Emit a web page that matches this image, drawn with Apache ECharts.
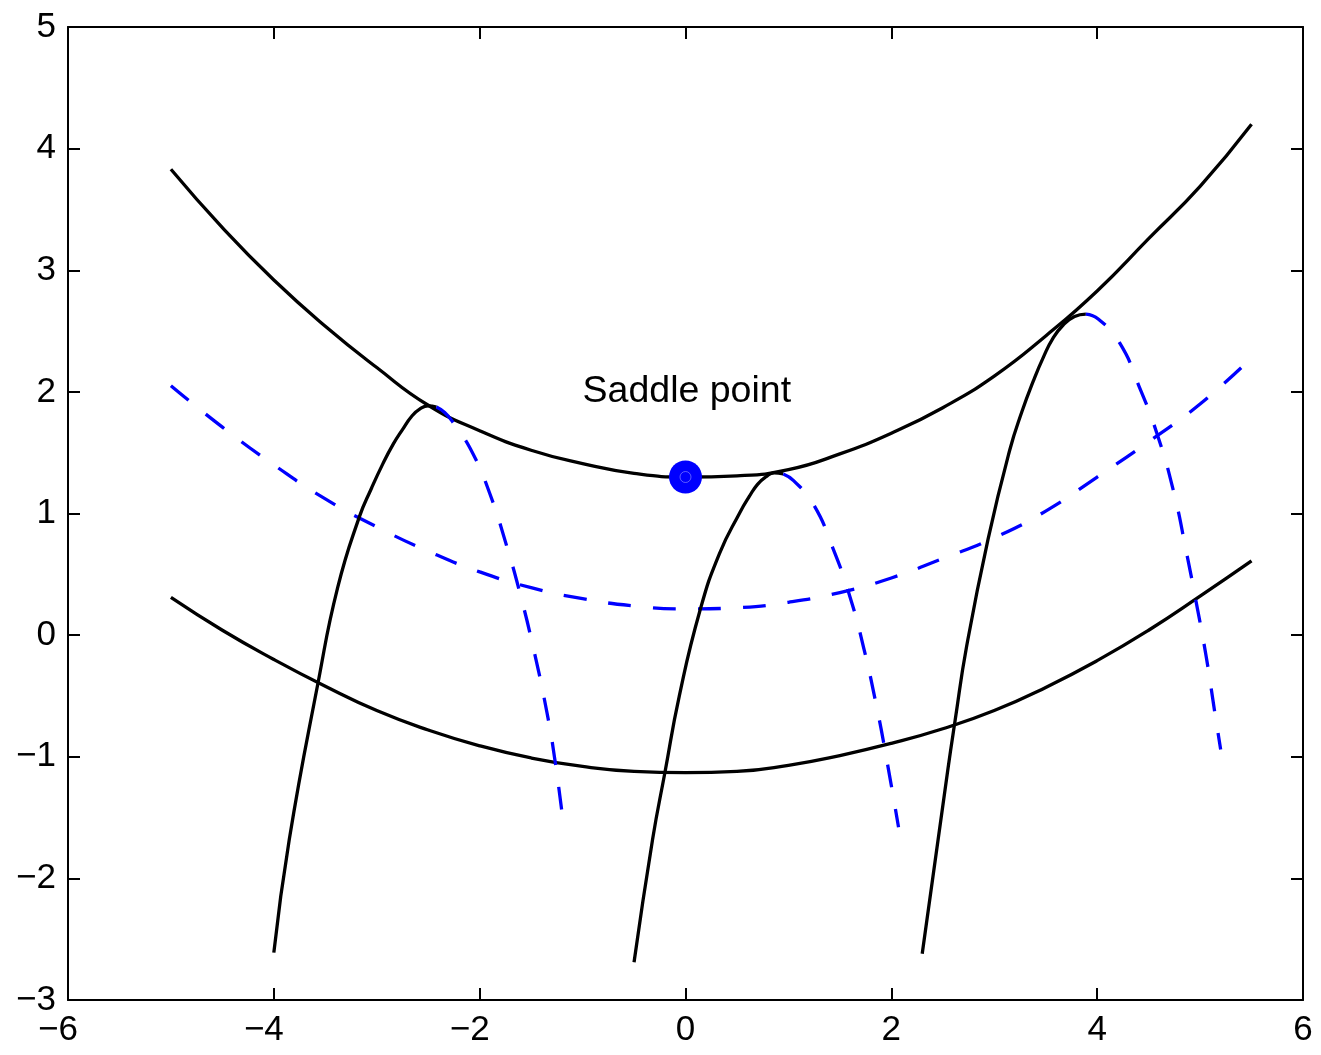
<!DOCTYPE html>
<html>
<head>
<meta charset="utf-8">
<script src="https://cdn.jsdelivr.net/npm/echarts@6/dist/echarts.min.js"></script>
<style>
  html, body { margin: 0; padding: 0; background: #ffffff; }
  #chart { width: 1321px; height: 1055px; }
</style>
</head>
<body>
<div id="chart"></div>
<script>
// Axis ticks
const xTickValues = [-6, -4, -2, 0, 2, 4, 6];
const yTickValues = [-3, -2, -1, 0, 1, 2, 3, 4, 5];

// Stable / unstable branches, as [x, y] pairs
const upperBranch = [
  [-5.0, 3.83], [-4.5, 3.35], [-4.0, 2.92], [-3.5, 2.54], [-3.0, 2.20],
  [-2.5, 1.89], [-2.0, 1.68], [-1.5, 1.52], [-1.0, 1.41], [-0.5, 1.33],
  [0.0, 1.30], [0.5, 1.31], [1.0, 1.36], [1.5, 1.49], [2.0, 1.66],
  [2.5, 1.87], [3.0, 2.13], [3.5, 2.46], [4.0, 2.83], [4.5, 3.26],
  [5.0, 3.69], [5.5, 4.20]
];
const lowerBranch = [
  [-5.0, 0.31], [-4.5, 0.04], [-4.0, -0.20], [-3.5, -0.42], [-3.0, -0.62],
  [-2.5, -0.78], [-2.0, -0.91], [-1.5, -1.01], [-1.0, -1.08], [-0.5, -1.12],
  [0.0, -1.13], [0.5, -1.12], [1.0, -1.07], [1.5, -0.99], [2.0, -0.89],
  [2.5, -0.77], [3.0, -0.62], [3.5, -0.43], [4.0, -0.21], [4.5, 0.04],
  [5.0, 0.32], [5.5, 0.61]
];
const middleBranch = [
  [-5.0, 2.05], [-4.5, 1.71], [-4.0, 1.40], [-3.5, 1.12], [-3.0, 0.89],
  [-2.5, 0.69], [-2.0, 0.52], [-1.5, 0.39], [-1.0, 0.30], [-0.5, 0.24],
  [0.0, 0.215], [0.5, 0.225], [1.0, 0.27], [1.5, 0.35], [2.0, 0.47],
  [2.5, 0.63], [3.0, 0.80], [3.5, 1.02], [4.0, 1.30], [4.5, 1.59],
  [5.0, 1.90], [5.5, 2.28]
];

// Trajectories: rising part (solid) and falling part (dashed)
const trajARise = [
  [-4.0, -2.61], [-3.85, -1.68], [-3.57, -0.39], [-3.38, 0.39], [-3.17, 0.97],
  [-3.05, 1.21], [-2.94, 1.41], [-2.84, 1.57], [-2.75, 1.69], [-2.66, 1.80],
  [-2.58, 1.86], [-2.50, 1.885], [-2.42, 1.875]
];
const trajAFall = [
  [-2.42, 1.875], [-2.34, 1.83], [-2.26, 1.75], [-2.07, 1.50], [-1.90, 1.16],
  [-1.74, 0.74], [-1.61, 0.35], [-1.48, -0.10], [-1.35, -0.62], [-1.27, -1.02],
  [-1.19, -1.53]
];
const trajBRise = [
  [-0.50, -2.69], [-0.32, -1.68], [-0.20, -1.13], [-0.06, -0.50], [0.14, 0.20],
  [0.33, 0.67], [0.53, 1.01], [0.62, 1.14], [0.70, 1.24], [0.78, 1.30],
  [0.86, 1.334], [0.95, 1.325]
];
const trajBFall = [
  [0.95, 1.325], [1.05, 1.27], [1.24, 1.08], [1.43, 0.72], [1.60, 0.31],
  [1.73, -0.10], [1.86, -0.60], [1.95, -1.00], [2.07, -1.58]
];
const trajCRise = [
  [2.30, -2.62], [2.55, -1.10], [2.62, -0.70], [2.73, -0.10], [2.94, 0.79],
  [3.15, 1.52], [3.27, 1.84], [3.38, 2.09], [3.48, 2.29], [3.57, 2.44],
  [3.67, 2.55], [3.78, 2.62], [3.89, 2.64]
];
const trajCFall = [
  [3.89, 2.64], [4.01, 2.60], [4.22, 2.40], [4.41, 2.04], [4.58, 1.66],
  [4.74, 1.19], [4.87, 0.67], [4.96, 0.28], [5.06, -0.18], [5.14, -0.62],
  [5.20, -0.94]
];

const saddlePoint = [0, 1.3];
const saddleLabel = { text: 'Saddle point', at: [-1, 2] };

const FONT = '"Liberation Sans", Arial, Helvetica, sans-serif';
const BLACK = '#000000';
const BLUE = '#0000ff';

const chart = echarts.init(document.getElementById('chart'), null, { renderer: 'canvas' });

function curve(data, color, dash) {
  return {
    type: 'line', data, showSymbol: false, smooth: 0.5,
    lineStyle: { color, width: 3.3, type: dash ? [23, 22] : 'solid', cap: 'butt', join: 'round' },
    silent: true, animation: false, z: 3
  };
}

const xMin = xTickValues[0], xMax = xTickValues[xTickValues.length - 1];
const yMin = yTickValues[0], yMax = yTickValues[yTickValues.length - 1];
const xStep = xTickValues[1] - xTickValues[0];
const yStep = yTickValues[1] - yTickValues[0];

const boxLine = { show: true, onZero: false, lineStyle: { color: BLACK, width: 2 } };
const innerTick = { show: true, inside: true, length: 12, lineStyle: { color: BLACK, width: 2 } };

const labelRich = {
  neg: { fontSize: 35, fontFamily: FONT, color: BLACK, padding: [0, 20, 0, 0] },
  pos: { fontSize: 35, fontFamily: FONT, color: BLACK }
};

const option = {
  backgroundColor: '#ffffff',
  animation: false,
  grid: { left: 68, right: 18, top: 27, bottom: 55, containLabel: false },
  xAxis: [
    {
      type: 'value', min: xMin, max: xMax, interval: xStep,
      axisLine: boxLine, axisTick: innerTick, splitLine: { show: false },
      axisLabel: {
        margin: 13, fontSize: 35, fontFamily: FONT, color: BLACK,
        formatter: v => v < 0 ? '{neg|\u2212' + Math.abs(v) + '}' : '{pos|' + v + '}',
        rich: labelRich
      }
    },
    {
      type: 'value', position: 'top', min: xMin, max: xMax, interval: xStep,
      axisLine: boxLine, axisTick: innerTick, splitLine: { show: false },
      axisLabel: { show: false }
    }
  ],
  yAxis: [
    {
      type: 'value', min: yMin, max: yMax, interval: yStep,
      axisLine: boxLine, axisTick: innerTick, splitLine: { show: false },
      axisLabel: {
        margin: 12, fontSize: 35, fontFamily: FONT, color: BLACK,
        formatter: v => v < 0 ? '\u2212' + Math.abs(v) : String(v)
      }
    },
    {
      type: 'value', position: 'right', min: yMin, max: yMax, interval: yStep,
      axisLine: boxLine, axisTick: innerTick, splitLine: { show: false },
      axisLabel: { show: false }
    }
  ],
  series: [
    curve(upperBranch, BLACK, false),
    curve(lowerBranch, BLACK, false),
    curve(middleBranch, BLUE, true),
    curve(trajARise, BLACK, false),
    curve(trajAFall, BLUE, true),
    curve(trajBRise, BLACK, false),
    curve(trajBFall, BLUE, true),
    curve(trajCRise, BLACK, false),
    curve(trajCFall, BLUE, true),
    {
      type: 'scatter', data: [saddlePoint], symbol: 'circle', symbolSize: 33,
      itemStyle: { color: BLUE, opacity: 1 }, silent: true, z: 5
    },
    {
      type: 'scatter', data: [saddlePoint], symbol: 'circle', symbolSize: 11,
      itemStyle: { color: BLUE, opacity: 1, borderColor: 'rgba(150,150,255,0.6)', borderWidth: 1 },
      silent: true, z: 6
    },
    {
      type: 'scatter', data: [saddleLabel.at], symbolSize: 0, silent: true, z: 7,
      itemStyle: { opacity: 1 },
      label: {
        show: true, position: 'right', distance: 0, opacity: 1,
        formatter: '{t|' + saddleLabel.text + '}',
        rich: { t: { fontSize: 37.5, fontFamily: FONT, color: BLACK } }
      }
    }
  ]
};

chart.setOption(option);
</script>
</body>
</html>
